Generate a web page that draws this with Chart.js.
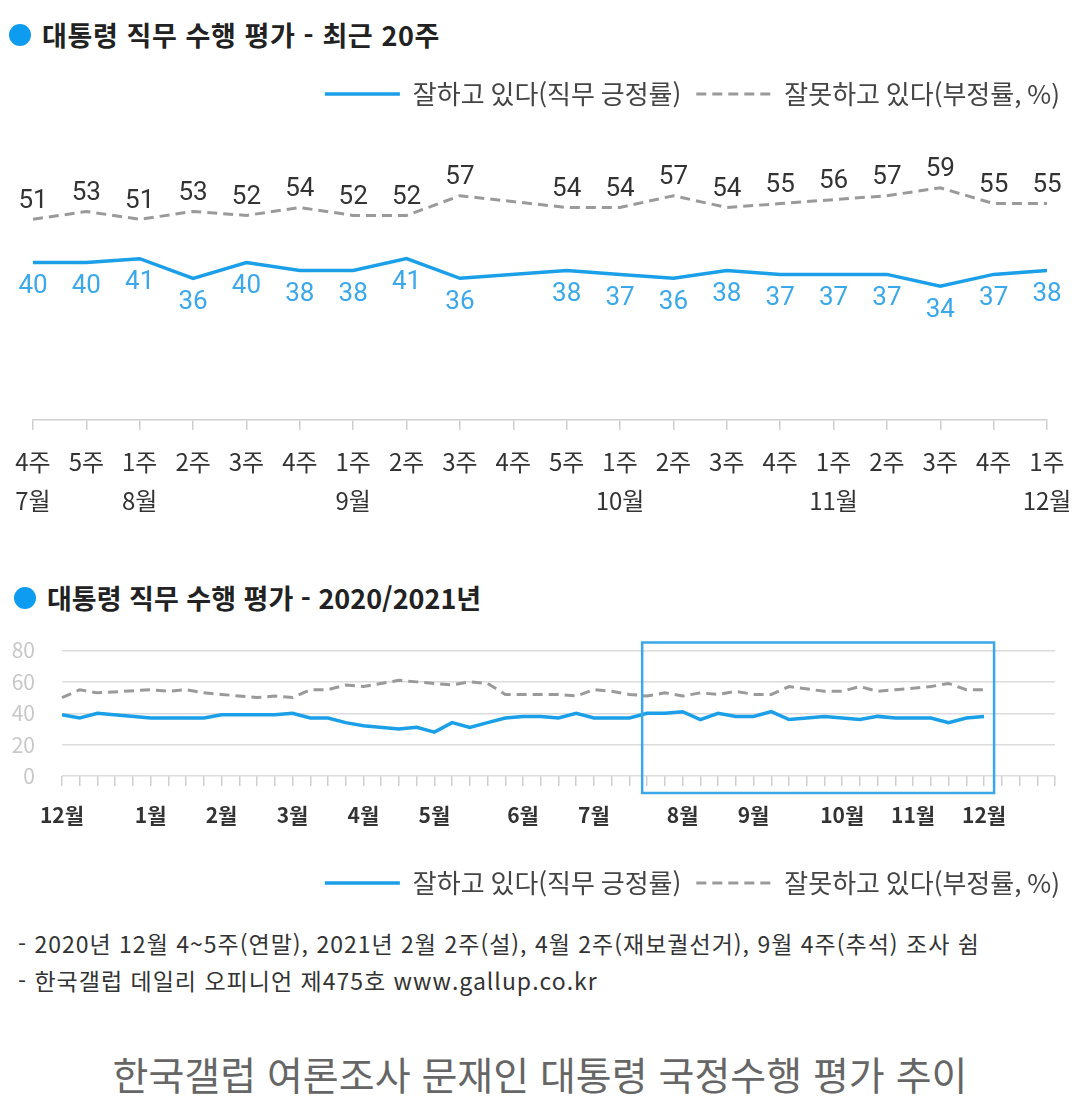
<!DOCTYPE html>
<html lang="ko">
<head>
<meta charset="utf-8">
<title>한국갤럽 여론조사 문재인 대통령 국정수행 평가 추이</title>
<script src="https://cdn.jsdelivr.net/npm/chart.js@4.4.0/dist/chart.umd.min.js"></script>
<style>
  html, body { margin: 0; padding: 0; background: #fff; }
  body { width: 1080px; height: 1106px; position: relative; overflow: hidden;
         font-family: "Noto Sans CJK KR", sans-serif; }
  .title { position: absolute; font-size: 27px; font-weight: 700; color: #222;
           line-height: 34px; white-space: nowrap; letter-spacing: 0.6px; }
  .title .dot { position: absolute; width: 22px; height: 22px; border-radius: 50%;
                background: #0e9cf0; top: 6px; }
  .wrap { position: absolute; left: 0; width: 1080px; }
  .note { position: absolute; left: 18px; font-size: 23px; color: #333; line-height: 30px;
          white-space: nowrap; letter-spacing: 1px; }
  #caption { position: absolute; left: 0; width: 1080px; top: 1049px; text-align: center;
             font-size: 39px; color: #666; line-height: 48px; }
</style>
</head>
<body>

<div class="title" style="left:42px; top:18px;"><span class="dot" style="left:-33px;"></span>대통령 직무 수행 평가 - 최근 20주</div>
<div class="wrap" style="top:60px; height:460px;"><canvas id="recentChart" width="1080" height="460"></canvas></div>

<div class="title" style="left:47px; top:581px; letter-spacing:0;"><span class="dot" style="left:-33px;"></span>대통령 직무 수행 평가 - 2020/2021년</div>
<div class="wrap" style="top:613px; height:295px;"><canvas id="yearChart" width="1080" height="295"></canvas></div>

<div class="note" style="top:928px;">- 2020년 12월 4~5주(연말), 2021년 2월 2주(설), 4월 2주(재보궐선거), 9월 4주(추석) 조사 쉼</div>
<div class="note" style="top:965px;">- 한국갤럽 데일리 오피니언 제475호 www.gallup.co.kr</div>
<div id="caption">한국갤럽 여론조사 문재인 대통령 국정수행 평가 추이</div>

<script>
// ---- 최근 20주 (2021년 7월 4주 ~ 12월 1주) ----
const recentWeeks = ['4주','5주','1주','2주','3주','4주','1주','2주','3주','4주',
                     '5주','1주','2주','3주','4주','1주','2주','3주','4주','1주'];
const recentMonths = ['7월','','8월','','','','9월','','','',
                      '','10월','','','','11월','','','','12월'];
// 9월 4주 추석 -> 조사 쉼 (null)
const recentPositive = [40,40,41,36,40,38,38,41,36,null,38,37,36,38,37,37,37,34,37,38];
const recentNegative = [51,53,51,53,52,54,52,52,57,null,54,54,57,54,55,56,57,59,55,55];

// ---- 2020/2021년 주간 추이 (2020년 12월 1주 ~ 2021년 12월 5주) ----
const yearTickLabels = [
  '12월','','','','',   // 2020.12
  '1월','','','',
  '2월','','','',
  '3월','','','',
  '4월','','','',
  '5월','','','','',
  '6월','','','',
  '7월','','','','',
  '8월','','','',
  '9월','','','','',
  '10월','','','',
  '11월','','','',
  '12월','','','',''
];
const yearPositive = [
  39,37,40,null,null,
  37,37,37,37,
  39,null,39,39,
  40,37,37,34,
  32,null,30,31,
  28,34,31,34,37,
  38,38,37,40,
  37,37,37,40,40,
  41,36,40,38,
  38,41,36,null,38,
  37,36,38,37,
  37,37,34,37,
  38,null,null,null,null
];
const yearNegative = [
  50,55,53,null,null,
  55,54,55,53,
  52,null,50,51,
  50,55,55,58,
  57,null,61,60,
  59,58,60,59,52,
  52,52,52,51,
  55,54,52,51,53,
  51,53,52,54,
  52,52,57,null,54,
  54,57,54,55,
  56,57,59,55,
  55,null,null,null,null
];
// weeks where the line is broken (the 9월 4주 gap is bridged in the original)
const yearLineBreaks = [3, 4, 10, 18];
// highlighted range = last 20 weeks
const highlightFrom = 33;
const highlightTo = 52;

const POS_COLOR = '#1a9fe8';
const NEG_COLOR = '#9a9a9a';
const FONT = "'Noto Sans CJK KR', sans-serif";

Chart.defaults.font.family = FONT;
Chart.defaults.animation = false;
Chart.defaults.events = [];
Chart.defaults.plugins.tooltip.enabled = false;

// legend lines keep the dataset's own dash and width
const legendLabels = {
  usePointStyle: true,
  pointStyle: 'line',
  pointStyleWidth: 75,
  padding: 15,
  color: '#444',
  font: { size: 26, family: FONT },
  generateLabels: chart => chart.data.datasets.map((ds, i) => ({
    text: ds.label,
    datasetIndex: i,
    pointStyle: 'line',
    strokeStyle: ds.borderColor,
    fillStyle: ds.borderColor,
    lineWidth: ds.borderWidth,
    lineDash: ds.borderDash || [],
    fontColor: '#444',
    hidden: false
  }))
};

//values printed next to each point
const pointValues = {
  id: 'pointValues',
  afterDatasetsDraw(chart, args, opts) {
    if (!opts.show) return;
    const ctx = chart.ctx;
    chart.data.datasets.forEach((ds, i) => {
      const meta = chart.getDatasetMeta(i);
      ctx.save();
      ctx.font = '26px Roboto';
      ctx.fillStyle = opts.colors[i];
      ctx.textAlign = 'center';
      ctx.textBaseline = 'middle';
      meta.data.forEach((pt, j) => {
        const v = ds.data[j];
        if (v === null || v === undefined) return;
        ctx.fillText(String(v), pt.x, pt.y + opts.shifts[i]);
      });
      ctx.restore();
    });
  }
};

//box round the last 20 weeks
const recentBox = {
  id: 'recentBox',
  afterDraw(chart, args, opts) {
    if (!opts.show) return;
    const { ctx, chartArea, scales } = chart;
    const left = scales.x.getPixelForValue(opts.from) - 5;
    const right = scales.x.getPixelForValue(opts.to) + 10;
    ctx.save();
    ctx.strokeStyle = opts.color;
    ctx.lineWidth = 2.5;
    ctx.strokeRect(left, chartArea.top - 8, right - left, chartArea.bottom - chartArea.top + 25);
    ctx.restore();
  }
};

new Chart(document.getElementById('recentChart'), {
  type: 'line',
  data: {
    labels: recentWeeks.map((w, i) => [w, recentMonths[i]]),
    datasets: [{
      label: '잘하고 있다(직무 긍정률)',
      data: recentPositive,
      borderColor: POS_COLOR,
      borderWidth: 3.5,
      pointRadius: 0,
      spanGaps: true
    }, {
      label: '잘못하고 있다(부정률, %)',
      data: recentNegative,
      borderColor: NEG_COLOR,
      borderWidth: 3,
      borderDash: [10, 6],
      pointRadius: 0,
      spanGaps: true
    }]
  },
  options: {
    responsive: false,
    layout: { padding: { top: 6, left: 0, right: 5, bottom: 0 } },
    scales: {
      x: {
        offset: false,
        grid: { drawOnChartArea: false, drawTicks: true, tickLength: 10, color: '#cfcfcf', lineWidth: 1.5 },
        border: { display: true, color: '#cfcfcf', width: 1.5 },
        ticks: { autoSkip: false, maxRotation: 0, padding: 13, color: '#333',
                 font: { size: 24, lineHeight: 1.6 } },
        afterFit: s => { s.paddingLeft = 33; s.paddingRight = 33; s.height = 100; }
      },
      y: { display: false, min: 0, max: 77 }
    },
    plugins: {
      legend: { position: 'top', align: 'end', labels: legendLabels },
      pointValues: { show: true, colors: ['#3aa8ea', '#333'], shifts: [24, -18] },
      recentBox: { show: false }
    }
  },
  plugins: [pointValues, recentBox]
});

const hideBreaks = ctx => {
  for (let i = ctx.p0DataIndex + 1; i < ctx.p1DataIndex; i++) {
    if (yearLineBreaks.includes(i)) return 'rgba(0,0,0,0)';
  }
  return undefined;
};

new Chart(document.getElementById('yearChart'), {
  type: 'line',
  data: {
    labels: yearTickLabels,
    datasets: [{
      label: '잘하고 있다(직무 긍정률)',
      data: yearPositive,
      borderColor: POS_COLOR,
      borderWidth: 3.5,
      pointRadius: 0,
      spanGaps: true,
      segment: { borderColor: hideBreaks }
    }, {
      label: '잘못하고 있다(부정률, %)',
      data: yearNegative,
      borderColor: NEG_COLOR,
      borderWidth: 3,
      borderDash: [10, 6],
      pointRadius: 0,
      spanGaps: true,
      segment: { borderColor: hideBreaks }
    }]
  },
  options: {
    responsive: false,
    layout: { padding: { top: 25, left: 0, right: 5, bottom: 2 } },
    scales: {
      x: {
        offset: false,
        grid: { drawOnChartArea: false, drawTicks: true, tickLength: 10, color: '#cfcfcf', lineWidth: 1.5 },
        border: { display: false },
        ticks: { autoSkip: false, maxRotation: 0, padding: 16, color: '#333',
                 font: { size: 21, weight: 'bold', lineHeight: 1.2 } },
        afterFit: s => { s.paddingRight = 25; s.height = 79; }
      },
      y: {
        min: 0, max: 80,
        grid: { color: '#dcdcdc', lineWidth: 1.5, drawTicks: false },
        border: { display: false },
        ticks: { stepSize: 20, autoSkip: false, padding: 27, color: '#c8c8c8',
                 font: { size: 21, lineHeight: 1 } },
        afterFit: s => { s.width = 62; }
      }
    },
    plugins: {
      legend: { position: 'bottom', align: 'end', labels: legendLabels },
      pointValues: { show: false },
      recentBox: { show: true, from: highlightFrom, to: highlightTo, color: '#3aa8e8' }
    }
  },
  plugins: [pointValues, recentBox]
});
</script>
</body>
</html>
